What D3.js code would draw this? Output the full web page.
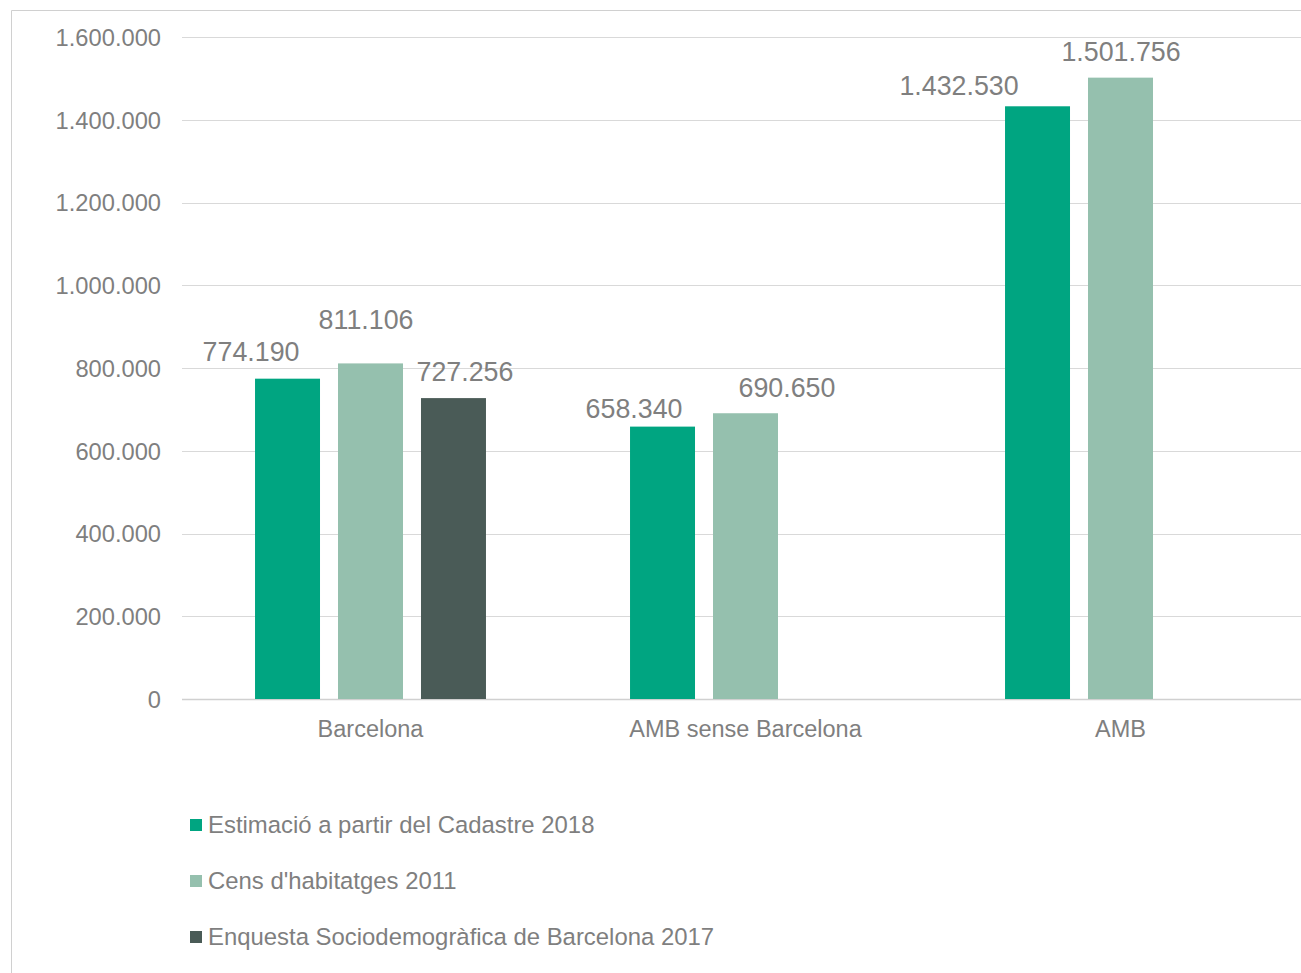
<!DOCTYPE html>
<html>
<head>
<meta charset="utf-8">
<script src="https://cdn.jsdelivr.net/npm/d3@7/dist/d3.min.js"></script>
<style>
  html, body { margin: 0; padding: 0; background: #ffffff; }
  svg { display: block; font-family: "Liberation Sans", Arial, sans-serif; }
</style>
</head>
<body>
<svg id="chart" width="1301" height="973"></svg>
<script>
// Habitatges: comparació de fonts
const categories = ["Barcelona", "AMB sense Barcelona", "AMB"];
const seriesNames = [
  "Estimació a partir del Cadastre 2018",
  "Cens d'habitatges 2011",
  "Enquesta Sociodemogràfica de Barcelona 2017"
];
const cadastre2018 = [774190, 658340, 1432530];
const cens2011 = [811106, 690650, 1501756];
const enquesta2017 = [727256, null, null];
const yTicks = [0, 200000, 400000, 600000, 800000, 1000000, 1200000, 1400000, 1600000];

const colors = ["#00a581", "#95c0ae", "#4a5b57"];
const textColor = "#7f7f7f";

const locale = d3.formatLocale({ decimal: ",", thousands: ".", grouping: [3], currency: ["", " €"] });
const fmt = locale.format(",d");

const svg = d3.select("#chart");
const W = 1301, H = 973;
const plot = { left: 183, right: 1308, top: 37, bottom: 699 };

// Outer frame (left and top edges)
svg.append("path")
  .attr("d", `M11.5,${H} V10.5 H${W}`)
  .attr("fill", "none")
  .attr("stroke", "#d0d0d0")
  .attr("stroke-width", 1);

const x0 = d3.scaleBand().domain(categories).range([plot.left, plot.right]).padding(0);
const x1 = d3.scaleBand().domain(d3.range(seriesNames.length))
  .range([0, x0.bandwidth()])
  .paddingInner(18 / 83)
  .paddingOuter(0.868);
const y = d3.scaleLinear().domain([0, 1600000]).range([plot.bottom, plot.top]);

// Gridlines
svg.append("g")
  .selectAll("line")
  .data(yTicks)
  .join("line")
  .attr("x1", plot.left - 1)
  .attr("x2", W)
  .attr("y1", d => Math.round(y(d)) + 0.5)
  .attr("y2", d => Math.round(y(d)) + 0.5)
  .attr("stroke", d => d === 0 ? "#d0d0d0" : "#d9d9d9")
  .attr("stroke-width", d => d === 0 ? 1.5 : 1);

// Y axis labels
const yAxis = d3.axisLeft(y).tickValues(yTicks).tickFormat(fmt).tickSize(0).tickPadding(0);
const gy = svg.append("g").attr("transform", "translate(161,0)").call(yAxis);
gy.select(".domain").remove();
gy.selectAll("text")
  .attr("fill", textColor)
  .attr("font-size", 23.7)
  .attr("dy", "0.35em")
  .attr("font-family", "'Liberation Sans', Arial, sans-serif");

// X axis labels
const xAxis = d3.axisBottom(x0).tickSize(0).tickPadding(0);
const gx = svg.append("g").attr("transform", `translate(0,${plot.bottom + 30})`).call(xAxis);
gx.select(".domain").remove();
gx.selectAll("text")
  .attr("fill", textColor)
  .attr("font-size", 23.5)
  .attr("dy", "0.35em")
  .attr("font-family", "'Liberation Sans', Arial, sans-serif");

// Bars
const seriesValues = [cadastre2018, cens2011, enquesta2017];
const barData = [];
seriesValues.forEach((vals, s) => {
  vals.forEach((v, c) => {
    if (v != null) barData.push({ s, c, v });
  });
});

svg.append("g")
  .selectAll("rect")
  .data(barData)
  .join("rect")
  .attr("x", d => x0(categories[d.c]) + x1(d.s))
  .attr("width", x1.bandwidth())
  .attr("y", d => y(d.v))
  .attr("height", d => y(0) - y(d.v))
  .attr("fill", d => colors[d.s]);

// Value labels, nudged away from neighbouring labels
const labelNudge = {
  "0-0": [-36.5, -27], "1-0": [-4.5, -44], "2-0": [11.5, -26],
  "0-1": [-28.5, -18], "1-1": [41.5, -26],
  "0-2": [-78.5, -21], "1-2": [0.5, -26]
};
svg.append("g")
  .selectAll("text")
  .data(barData)
  .join("text")
  .attr("x", d => x0(categories[d.c]) + x1(d.s) + x1.bandwidth() / 2 + labelNudge[`${d.s}-${d.c}`][0])
  .attr("y", d => y(d.v) + labelNudge[`${d.s}-${d.c}`][1])
  .attr("dy", "0.35em")
  .attr("text-anchor", "middle")
  .attr("fill", textColor)
  .attr("font-size", 26.8)
  .text(d => fmt(d.v));

// Legend
const legend = svg.append("g").attr("transform", "translate(190,825)");
const rows = legend.selectAll("g")
  .data(seriesNames)
  .join("g")
  .attr("transform", (d, i) => `translate(0,${i * 56})`);
rows.append("rect")
  .attr("x", 0).attr("y", -6)
  .attr("width", 12).attr("height", 12)
  .attr("fill", (d, i) => colors[i]);
rows.append("text")
  .attr("x", 18)
  .attr("dy", "0.35em")
  .attr("fill", textColor)
  .attr("font-size", 23.9)
  .text(d => d);
</script>
</body>
</html>
